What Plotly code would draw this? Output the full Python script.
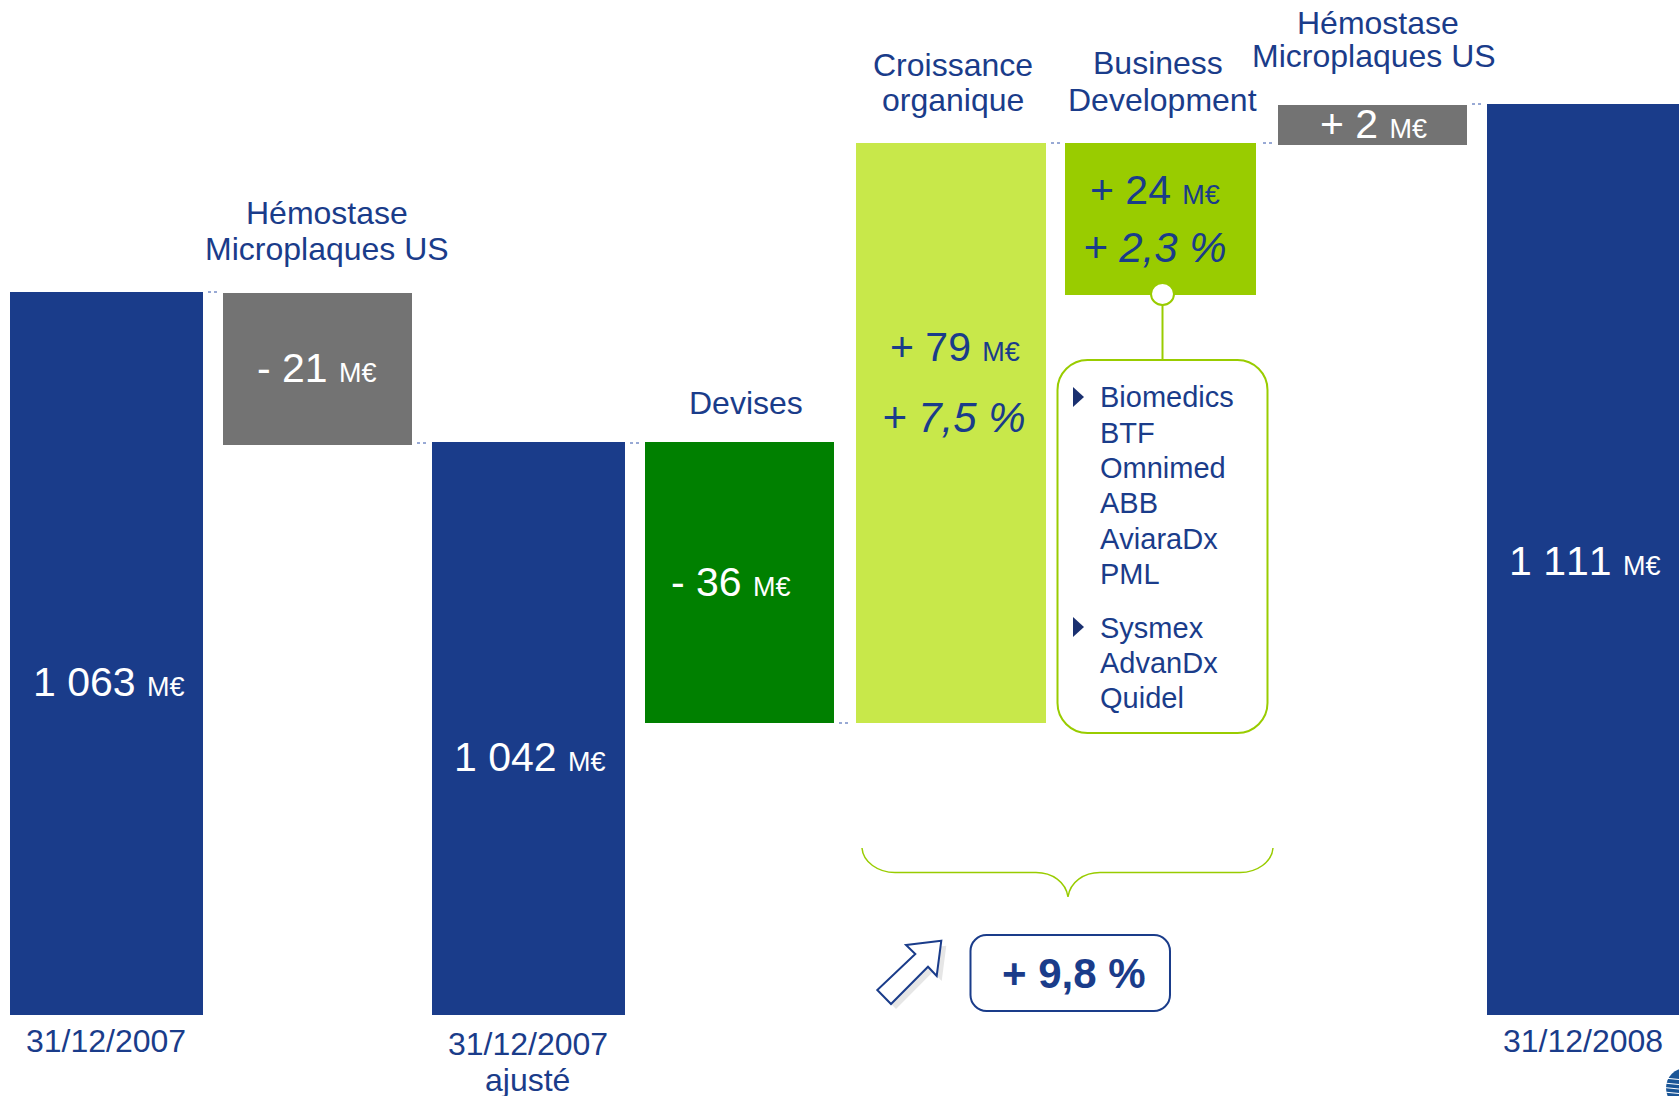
"""
Variation du chiffre d'affaires 2007 -> 2008 : barres flottantes et encadrés.
Les barres de la diapositive ne sont pas à l'échelle des M€ : les hauteurs
ci-dessous sont relevées sur l'image.
"""
import plotly.graph_objects as go

W = 1679
H = 1096
NAVY = "#1A3C8A"
LIME = "#99CC00"

# barres
categories = ["31/12/2007", "Hémostase 1", "31/12/2007 ajusté", "Devises",
              "Croissance organique", "Business Development", "Hémostase 2",
              "31/12/2008"]
bar_bottom = [0, 569.5, 0, 291.5, 291.5, 719.5, 869.5, 0]
bar_top = [722.5, 721.5, 572.5, 572.5, 871.5, 871.5, 909.5, 910.5]
bar_colors = [NAVY, "#737373", NAVY, "#008000", "#C8E84A", LIME, "#737373", NAVY]
bar_widths = [0.915, 0.897, 0.915, 0.897, 0.9, 0.905, 0.897, 0.915]
bar_offsets = [-0.4575, -0.4485, -0.4575, -0.4485, -0.448, -0.457, -0.4485, -0.4575]

# libellés M€
amount_labels = ["1 063", "- 21", "1 042", "- 36", "+ 79", "+ 24", "+ 2", "1 111"]
amount_x = [31, 255, 452, 669, 888, 1088, 1318, 1507]
amount_y = [682, 368, 757, 582, 347, 190, 124, 561]
amount_colors = ["white", "white", "white", "white", NAVY, NAVY, "white", "white"]

# pourcentages
percent_labels = ["+ 7,5 %", "+ 2,3 %"]
percent_x = [880, 1081]
percent_y = [417, 247]

# titres, ligne par ligne
header_lines = ["Hémostase", "Microplaques US", "Devises", "Croissance", "organique",
                "Business", "Development", "Hémostase", "Microplaques US",
                "31/12/2007", "31/12/2007", "ajusté", "31/12/2008"]
header_x = [326.6, 326.6, 746, 953, 953, 1158, 1162, 1378, 1374, 106, 527.5, 527.5, 1583]
header_y = [213, 249, 403, 65, 100, 63, 100, 22.5, 56, 1041, 1044, 1080, 1041]

# acquisitions
deal_names = ["Biomedics", "BTF", "Omnimed", "ABB", "AviaraDx", "PML",
              "Sysmex", "AdvanDx", "Quidel"]
deal_y = [397, 433, 468, 503, 539, 574, 628, 663, 698]


def fx(x):
    return x / W


def fy(y):
    return 1 - y / H


def to_path(points, close=True):
    parts = [f"{'M' if i == 0 else 'L'}{fx(x):.5f},{fy(y):.5f}" for i, (x, y) in enumerate(points)]
    return " ".join(parts) + (" Z" if close else "")


def rounded_box(x0, y0, x1, y1, r):
    k = r * 0.45
    seg = [
        f"M{fx(x0 + r):.5f},{fy(y0):.5f}",
        f"L{fx(x1 - r):.5f},{fy(y0):.5f}",
        f"C{fx(x1 - k):.5f},{fy(y0):.5f} {fx(x1):.5f},{fy(y0 + k):.5f} {fx(x1):.5f},{fy(y0 + r):.5f}",
        f"L{fx(x1):.5f},{fy(y1 - r):.5f}",
        f"C{fx(x1):.5f},{fy(y1 - k):.5f} {fx(x1 - k):.5f},{fy(y1):.5f} {fx(x1 - r):.5f},{fy(y1):.5f}",
        f"L{fx(x0 + r):.5f},{fy(y1):.5f}",
        f"C{fx(x0 + k):.5f},{fy(y1):.5f} {fx(x0):.5f},{fy(y1 - k):.5f} {fx(x0):.5f},{fy(y1 - r):.5f}",
        f"L{fx(x0):.5f},{fy(y0 + r):.5f}",
        f"C{fx(x0):.5f},{fy(y0 + k):.5f} {fx(x0 + k):.5f},{fy(y0):.5f} {fx(x0 + r):.5f},{fy(y0):.5f} Z",
    ]
    return " ".join(seg)


def text_note(x, y, text, size=32, color=NAVY, anchor="center"):
    return dict(
        xref="paper", yref="paper", x=fx(x), y=fy(y), text=text, showarrow=False,
        xanchor=anchor, yanchor="middle", align=anchor,
        font=dict(family="Liberation Sans", size=size, color=color),
    )


fig = go.Figure()
fig.add_trace(go.Bar(
    x=categories,
    y=[t - b for t, b in zip(bar_top, bar_bottom)],
    base=bar_bottom,
    marker=dict(color=bar_colors, line=dict(width=0)),
    width=bar_widths,
    offset=bar_offsets,
    hoverinfo="skip",
))

shapes = []

# pointillés entre les barres
for x0, x1, y in [(208, 219, 292), (417, 427, 443), (630, 640, 443), (839, 849, 723),
                  (1051, 1060, 143), (1263, 1273, 143), (1472, 1481, 104)]:
    shapes.append(dict(type="line", xref="paper", yref="paper",
                       x0=fx(x0), x1=fx(x1), y0=fy(y), y1=fy(y),
                       line=dict(color="#3355AA", width=1, dash="dot")))

# encadré des acquisitions
shapes.append(dict(type="line", xref="paper", yref="paper", x0=fx(1162.5), x1=fx(1162.5),
                   y0=fy(300), y1=fy(360), line=dict(color=LIME, width=2)))
shapes.append(dict(type="circle", xref="paper", yref="paper", x0=fx(1151), x1=fx(1174),
                   y0=fy(283), y1=fy(305), fillcolor="white", line=dict(color=LIME, width=2)))
shapes.append(dict(type="path", xref="paper", yref="paper",
                   path=rounded_box(1057.5, 360, 1267.5, 733, 30),
                   line=dict(color=LIME, width=2)))
for y in (397, 627):
    shapes.append(dict(type="path", xref="paper", yref="paper",
                       path=to_path([(1073, y - 10), (1084, y), (1073, y + 10)]),
                       fillcolor="#1A3070", line=dict(width=0)))

# accolade
brace = (
    f"M{fx(862):.5f},{fy(848):.5f} "
    f"C{fx(863):.5f},{fy(862):.5f} {fx(878):.5f},{fy(872.5):.5f} {fx(895):.5f},{fy(872.5):.5f} "
    f"L{fx(1036):.5f},{fy(872.5):.5f} "
    f"C{fx(1052):.5f},{fy(872.5):.5f} {fx(1066):.5f},{fy(882):.5f} {fx(1068):.5f},{fy(897):.5f} "
    f"C{fx(1070):.5f},{fy(882):.5f} {fx(1084):.5f},{fy(872.5):.5f} {fx(1100):.5f},{fy(872.5):.5f} "
    f"L{fx(1240):.5f},{fy(872.5):.5f} "
    f"C{fx(1257):.5f},{fy(872.5):.5f} {fx(1272):.5f},{fy(862):.5f} {fx(1273):.5f},{fy(848):.5f}"
)
shapes.append(dict(type="path", xref="paper", yref="paper", path=brace,
                   line=dict(color=LIME, width=1.5)))

# flèche avec ombre
arrow = [(941.3, 940.7), (906, 945), (915.3, 954), (877.3, 990), (891, 1004), (928, 966.7), (936.7, 976)]
shapes.append(dict(type="path", xref="paper", yref="paper",
                   path=to_path([(x + 5, y + 5) for x, y in arrow]),
                   fillcolor="#E6E6E6", line=dict(width=0)))
shapes.append(dict(type="path", xref="paper", yref="paper", path=to_path(arrow),
                   fillcolor="white", line=dict(color=NAVY, width=2)))

# encadré + 9,8 %
shapes.append(dict(type="path", xref="paper", yref="paper",
                   path=rounded_box(970.5, 935, 1170, 1011, 16),
                   line=dict(color=NAVY, width=2)))

# logo coupé en bas à droite
shapes.append(dict(type="circle", xref="paper", yref="paper", x0=fx(1666), x1=fx(1706),
                   y0=fy(1068), y1=fy(1108), fillcolor="#1A5596", line=dict(width=0)))
for y in (1078, 1083, 1087.5, 1092):
    shapes.append(dict(type="line", xref="paper", yref="paper", x0=fx(1664), x1=fx(1679),
                       y0=fy(y), y1=fy(y + 1.5), line=dict(color="white", width=1.2)))

notes = []
for label, x, y, color in zip(amount_labels, amount_x, amount_y, amount_colors):
    text = f"{label} <span style='font-size:27px'>M€</span>"
    notes.append(text_note(x, y, text, size=41, color=color, anchor="left"))
for label, x, y in zip(percent_labels, percent_x, percent_y):
    notes.append(text_note(x, y, f"<i>{label}</i>", size=42, anchor="left"))
for line, x, y in zip(header_lines, header_x, header_y):
    notes.append(text_note(x, y, line, size=32))
for name, y in zip(deal_names, deal_y):
    notes.append(text_note(1097.5, y, name, size=29, anchor="left"))
notes.append(text_note(1000, 973, "<b>+ 9,8 %</b>", size=42, anchor="left"))

fig.update_layout(
    width=W,
    height=H,
    margin=dict(l=0, r=0, t=0, b=0),
    plot_bgcolor="white",
    paper_bgcolor="white",
    showlegend=False,
    bargap=0,
    xaxis=dict(range=[-0.5047, 7.4526], visible=False, type="category",
               categoryorder="array", categoryarray=categories),
    yaxis=dict(range=[-81.5, 1014.5], visible=False),
    shapes=shapes,
    annotations=notes,
)

fig.write_html(
    "out.html",
    config={"displayModeBar": False},
    post_script=(
        "document.body.style.margin='0';document.body.style.overflow='hidden';"
        "var s=document.createElement('style');"
        "s.textContent='.annotation-text{font-kerning:none}';"
        "document.head.appendChild(s);"
    ),
)
